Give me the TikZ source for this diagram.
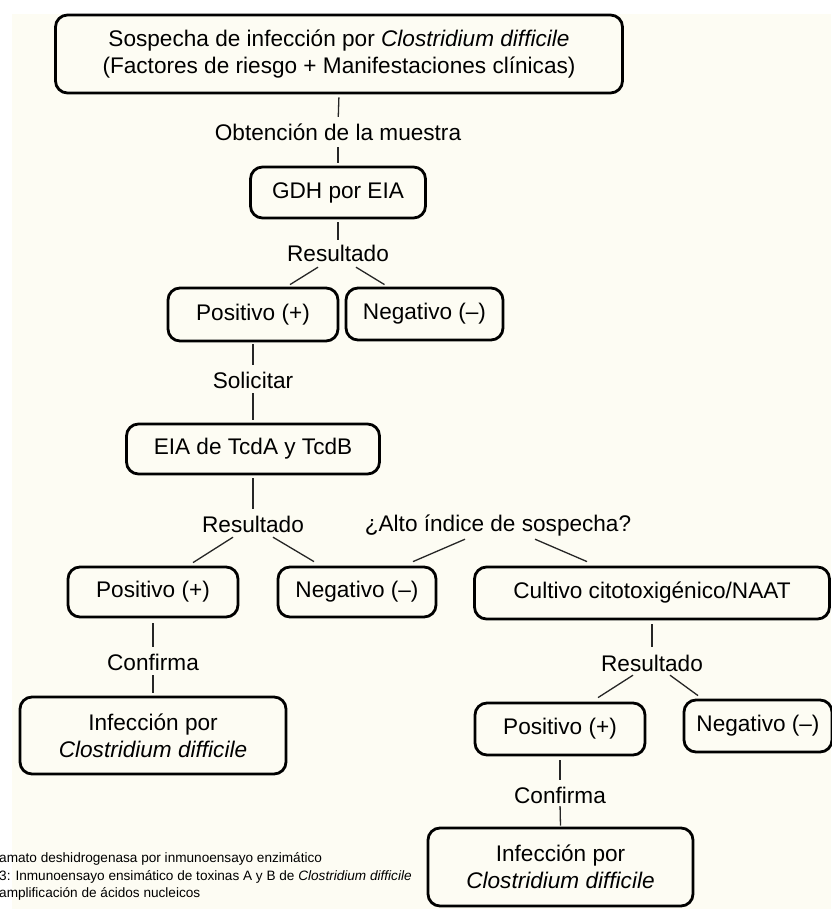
\documentclass[tikz,border=0pt]{standalone}
\usepackage{fontspec}
\setmainfont{Liberation Sans}
\definecolor{cream}{RGB}{253,252,243}
\newcommand\mainsz{\fontsize{22.6}{27}\selectfont}
\newcommand\notesz{\fontsize{13.6}{17.5}\selectfont}
\begin{document}
\begin{tikzpicture}[x=1pt,y=-1pt,
  box/.style={draw=black, line width=2.8pt, rounded corners=12pt, inner sep=0pt, align=center, font=\mainsz},
  lbl/.style={inner sep=0pt, text height=16pt, text depth=0pt, font=\mainsz},
  conn/.style={line width=1.3pt, draw=black!85},
  note/.style={inner sep=0pt, anchor=base west, font=\notesz}]
\useasboundingbox (0,0) rectangle (831,909);
\fill[white] (0,0) rectangle (831,909);
\fill[cream] (12,14) rectangle (831,909);

% nodes
\node[box, minimum width=567pt, minimum height=78pt] (top) at (339,54)
  {Sospecha de infección por \textit{Clostridium difficile}\\(Factores de riesgo + Manifestaciones clínicas)};
\node[lbl] (obt) at (338,133) {Obtención de la muestra};
\node[box, minimum width=175pt, minimum height=51pt] (gdh) at (338,192.5) {GDH por EIA};
\node[lbl] (res1) at (338,253) {Resultado};
\node[box, minimum width=170pt, minimum height=53pt] (pos1) at (253,314.5) {Positivo (+)};
\node[box, minimum width=157pt, minimum height=52pt] (neg1) at (424.5,314) {Negativo (–)};
\node[lbl] (sol) at (253,380) {Solicitar};
\node[box, minimum width=253pt, minimum height=50pt] (eia) at (253,449) {EIA de TcdA y TcdB};
\node[lbl] (res2) at (253,524) {Resultado};
\node[lbl] (alto) at (498,523) {¿Alto índice de sospecha?};
\node[box, minimum width=170pt, minimum height=50pt] (pos2) at (153,592) {Positivo (+)};
\node[box, minimum width=158pt, minimum height=50pt] (neg2) at (357,592) {Negativo (–)};
\node[box, minimum width=355pt, minimum height=52pt] (cult) at (652,593) {Cultivo citotoxigénico/NAAT};
\node[lbl] (conf1) at (153,662) {Confirma};
\node[box, minimum width=266pt, minimum height=77pt] (inf1) at (153,735.5)
  {Infección por\\\textit{Clostridium difficile}};
\node[lbl] (res3) at (652,663) {Resultado};
\node[box, minimum width=170pt, minimum height=52pt] (pos3) at (560,729) {Positivo (+)};
\node[box, minimum width=148pt, minimum height=52pt] (neg3) at (758,726) {Negativo (–)};
\node[lbl] (conf2) at (560,795) {Confirma};
\node[box, minimum width=265pt, minimum height=78pt] (inf2) at (560.5,867)
  {Infección por\\\textit{Clostridium difficile}};

% footnote
\node[note] (n1) at (-1,862) {amato deshidrogenasa por inmunoensayo enzimático};
\node[note] (n2) at (-1,880) {3: Inmunoensayo ensimático de toxinas A y B de \textit{Clostridium difficile}};
\node[note] (n3) at (-1,897) {amplificación de ácidos nucleicos};

% connectors
\draw[conn, shorten <=3pt, shorten >=8pt] (top.south) -- (obt.north);
\draw[conn, shorten <=6pt, shorten >=3pt] (obt.south) -- (gdh.north);
\draw[conn, shorten <=3pt, shorten >=5pt] (gdh.south) -- (res1.north);
\draw[conn] ([shift={(-20,6)}]res1.south) -- ([shift={(37,-2)}]pos1.north);
\draw[conn] ([shift={(18,6)}]res1.south) -- ([shift={(-40,-2)}]neg1.north);
\draw[conn, shorten <=2pt, shorten >=7pt] (pos1.south) -- (sol.north);
\draw[conn, shorten <=5pt, shorten >=3pt] (sol.south) -- (eia.north);
\draw[conn, shorten <=3pt, shorten >=7pt] (eia.south) -- (res2.north);
\draw[conn] ([shift={(-20,5)}]res2.south) -- ([shift={(40,-3)}]pos2.north);
\draw[conn] ([shift={(20,5)}]res2.south) -- ([shift={(-43,-4)}]neg2.north);
\draw[conn] ([shift={(-33,8)}]alto.south) -- ([shift={(56,-4)}]neg2.north);
\draw[conn] ([shift={(37,8)}]alto.south) -- ([shift={(-65,-4)}]cult.north);
\draw[conn, shorten <=5pt, shorten >=7pt] (pos2.south) -- (conf1.north);
\draw[conn, shorten <=5pt, shorten >=3pt] (conf1.south) -- (inf1.north);
\draw[conn, shorten <=4pt, shorten >=8pt] (cult.south) -- (res3.north);
\draw[conn] ([shift={(-19,4)}]res3.south) -- ([shift={(38,-4)}]pos3.north);
\draw[conn] ([shift={(18,4)}]res3.south) -- ([shift={(-60,-3)}]neg3.north);
\draw[conn, shorten <=4pt, shorten >=7pt] (pos3.south) -- (conf2.north);
\draw[conn, shorten <=3pt, shorten >=1pt] (conf2.south) -- (inf2.north);
\end{tikzpicture}
\end{document}
